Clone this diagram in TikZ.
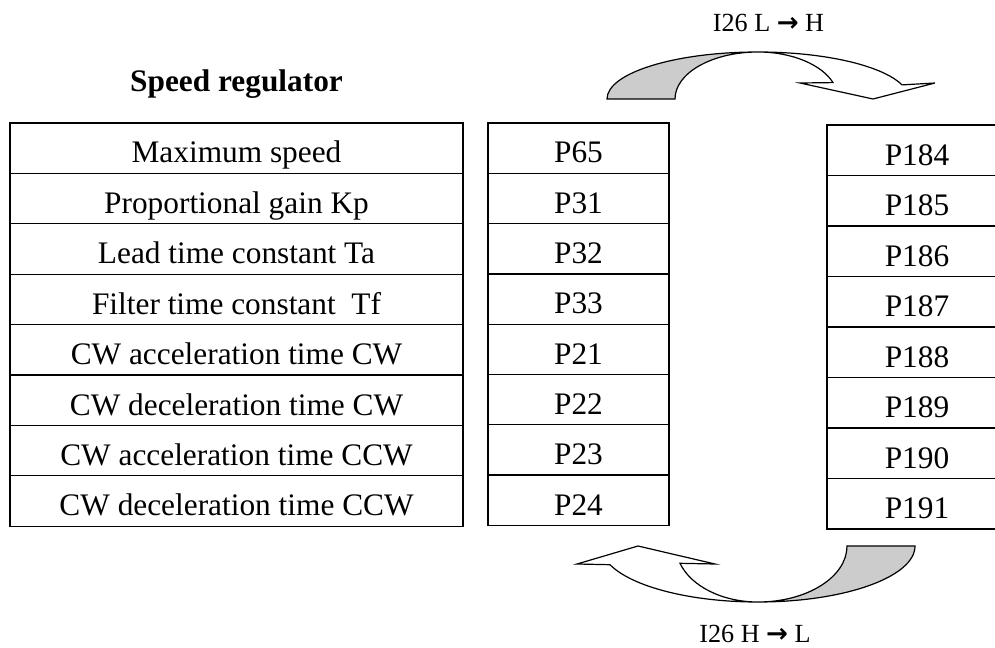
\documentclass[tikz,border=0pt]{standalone}
\usepackage{fontspec}
\setmainfont{Liberation Serif}
\newfontfamily\arrowfont{DejaVu Sans}
\begin{document}
\begin{tikzpicture}[x=0.75pt,y=0.75pt,yscale=-1,xscale=1,
	cell/.style={draw, line width=0.9pt, inner sep=0pt, text height=22.2pt, text depth=0pt, font=\fontsize{23.5}{28}\selectfont},
	namecell/.style={cell, minimum width=339.75pt, minimum height=37.8pt},
	paracell/.style={cell, minimum width=135.75pt, minimum height=37.7pt},
	setcell/.style={cell, minimum width=135pt, minimum height=37.9pt},
	swaplabel/.style={anchor=base, inner sep=0.75pt, font=\fontsize{19.6}{24}\selectfont},
	arrowline/.style={line width=0.9pt, line join=miter}]
			\useasboundingbox (0,0) rectangle (995,648);
			\clip (0,0) rectangle (995,648);
			%Title
			\node [anchor=base, inner sep=0.75pt, font=\fontsize{23.5}{28}\selectfont\bfseries] (title) at (236.5,92) {Speed regulator};
			%Parameter names
			\node [namecell] (name1) at (236.5,148.2) {Maximum speed};
			\node [namecell] (name2) at (236.5,198.6) {Proportional gain Kp};
			\node [namecell] (name3) at (236.5,249.0) {Lead time constant Ta};
			\node [namecell] (name4) at (236.5,299.4) {Filter time constant~ Tf};
			\node [namecell] (name5) at (236.5,349.8) {CW acceleration time CW};
			\node [namecell] (name6) at (236.5,400.2) {CW deceleration time CW};
			\node [namecell] (name7) at (236.5,450.6) {CW acceleration time CCW};
			\node [namecell] (name8) at (236.5,501.0) {CW deceleration time CCW};
			%First parameter set
			\node [paracell] (low1) at (578.5,148.15) {P65};
			\node [paracell] (low2) at (578.5,198.45) {P31};
			\node [paracell] (low3) at (578.5,248.75) {P32};
			\node [paracell] (low4) at (578.5,299.05) {P33};
			\node [paracell] (low5) at (578.5,349.35) {P21};
			\node [paracell] (low6) at (578.5,399.65) {P22};
			\node [paracell] (low7) at (578.5,449.95) {P23};
			\node [paracell] (low8) at (578.5,500.25) {P24};
			%Second parameter set
			\node [setcell] (high1) at (917,150.25) {P184};
			\node [setcell] (high2) at (917,200.75) {P185};
			\node [setcell] (high3) at (917,251.25) {P186};
			\node [setcell] (high4) at (917,301.75) {P187};
			\node [setcell] (high5) at (917,352.25) {P188};
			\node [setcell] (high6) at (917,402.75) {P189};
			\node [setcell] (high7) at (917,453.25) {P190};
			\node [setcell] (high8) at (917,503.75) {P191};
			%Curved arrow L to H, back side
			\draw [arrowline, fill=gray!40] (607,99) .. controls (607,73) and (674.6,52) .. (758,52) .. controls (712.2,52) and (675,73) .. (675,99) -- cycle;
			%Curved arrow L to H, front side
			\draw [arrowline, fill=white] (758,52) .. controls (823.9,52) and (882.2,65.3) .. (902,84.9) -- (935,83) -- (873,99) -- (800,83) -- (833,82.6) .. controls (821.3,64.2) and (791.4,52) .. (758,52) -- cycle;
			%Curved arrow H to L, back side
			\draw [arrowline, fill=gray!40] (915,546) .. controls (915,576.9) and (844.7,602) .. (758,602) .. controls (807.2,602) and (847,576.9) .. (847,546) -- cycle;
			%Curved arrow H to L, front side
			\draw [arrowline, fill=white] (758,602) .. controls (691.5,602) and (632.2,587.1) .. (610,564.7) -- (577,564) -- (638,546) -- (715,564) -- (680,563.3) .. controls (691,586.4) and (722.5,602) .. (758,602) -- cycle;
			\node [swaplabel] (uplabel) at (768.5,32) {I26 L {\arrowfont\bfseries →} H};
			
			\node [swaplabel] (downlabel) at (755,642) {I26 H {\arrowfont\bfseries →} L};
		\end{tikzpicture}
\end{document}
